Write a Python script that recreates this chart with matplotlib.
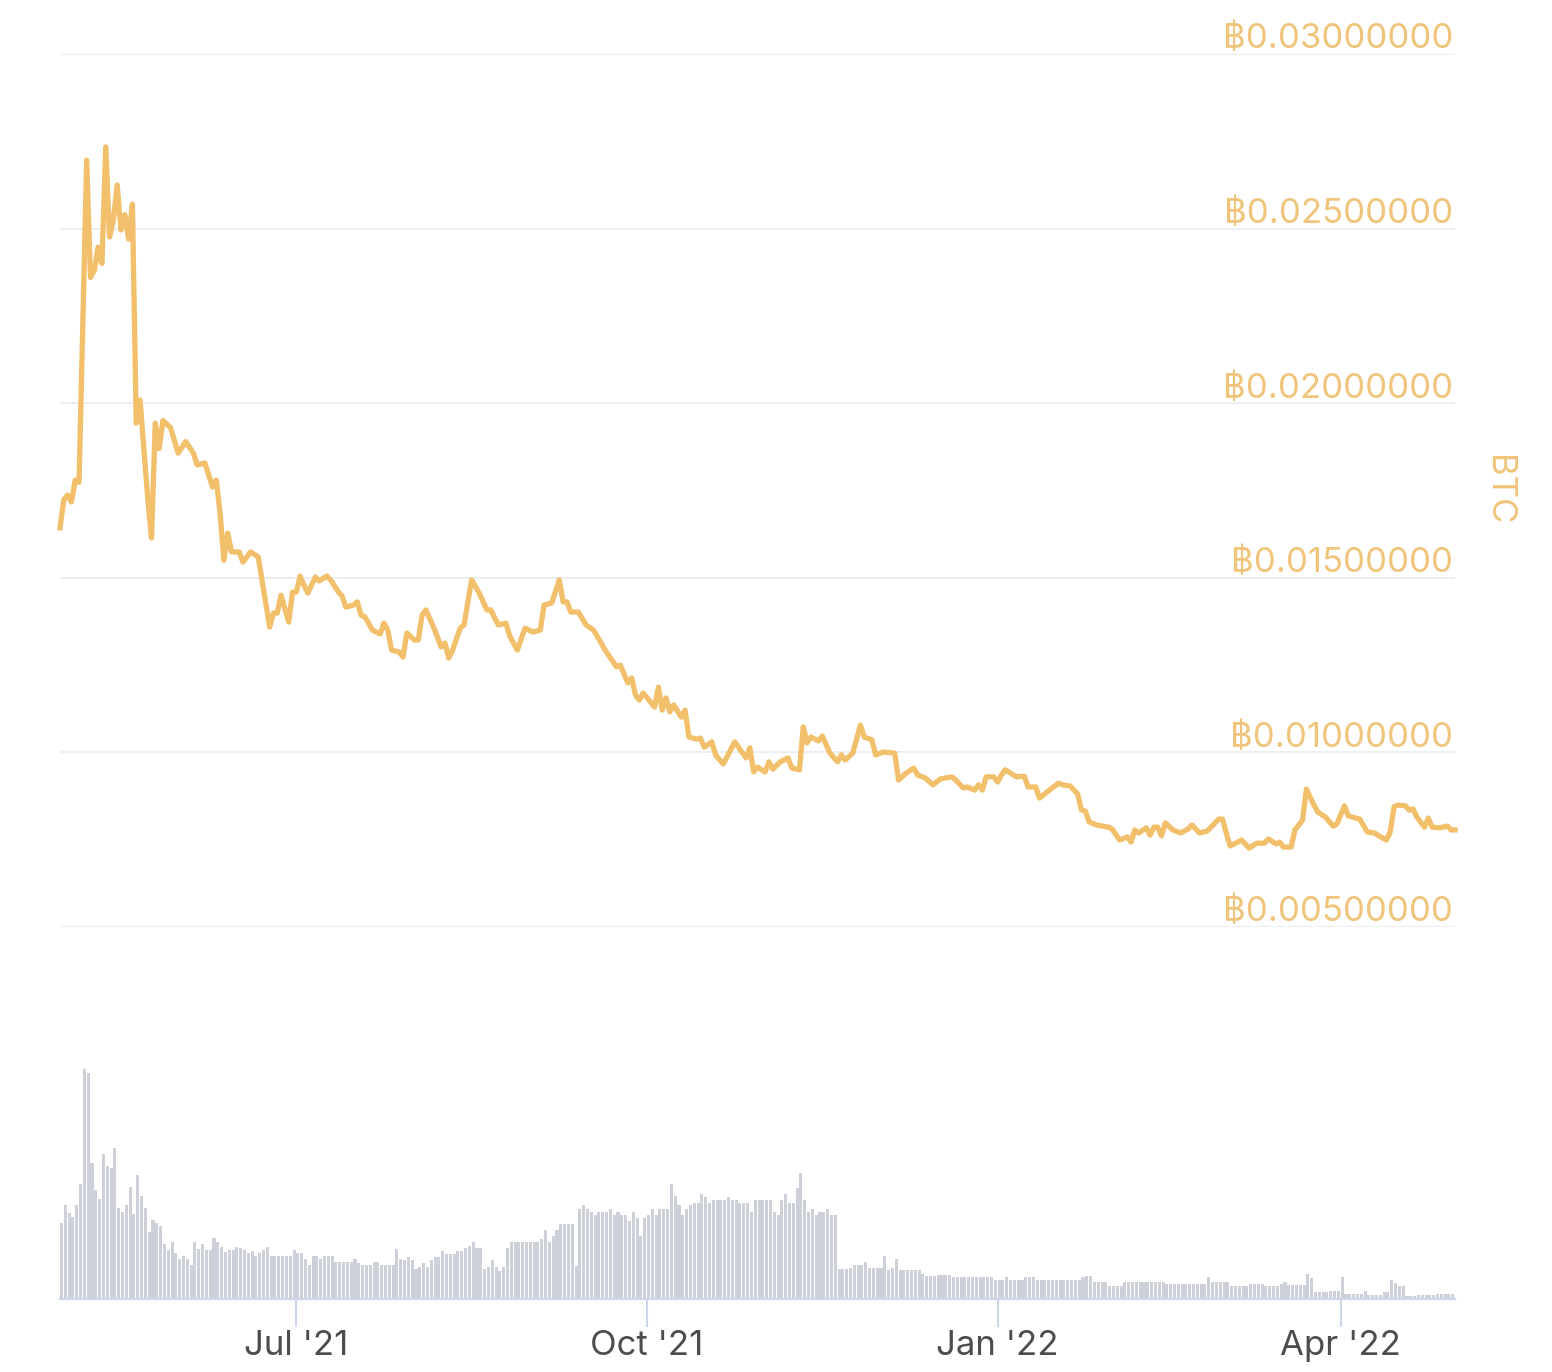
import matplotlib
matplotlib.use('Agg')
import matplotlib.pyplot as plt
import matplotlib.dates as mdates
import numpy as np
import pandas as pd

plt.rcParams['font.family'] = ['Inter', 'DejaVu Sans', 'Noto Sans']

start = pd.Timestamp('2021-04-30')

# price in mBTC, sampled on day offsets from start
price_day = [0, 1, 2, 3, 4, 5, 7, 8, 9, 10, 11, 12, 13, 14, 15, 16, 17, 18, 19, 20,
             21, 23, 24, 25, 26, 27, 29, 31, 33, 35, 36, 38, 40, 41, 42, 43, 44, 45, 47, 48,
             50, 52, 55, 56, 57, 58, 60, 61, 62, 63, 64, 65, 67, 68, 70, 71, 73, 74, 75, 77,
             78, 79, 80, 82, 84, 85, 86, 87, 89, 90, 91, 93, 94, 95, 96, 98, 100, 101, 102, 103,
             105, 106, 108, 110, 112, 113, 115, 117, 118, 120, 122, 124, 126, 127, 129, 131, 132, 133, 134, 136,
             138, 140, 142, 143, 146, 147, 149, 150, 151, 152, 153, 156, 157, 158, 159, 160, 161, 163, 164, 165,
             167, 168, 169, 171, 172, 174, 175, 177, 178, 180, 181, 182, 183, 185, 186, 187, 189, 191, 192, 194,
             195, 196, 197, 199, 200, 202, 204, 205, 206, 208, 210, 211, 213, 214, 216, 219, 220, 222, 224, 225,
             227, 229, 231, 234, 235, 237, 238, 240, 241, 242, 243, 245, 246, 247, 248, 251, 253, 254, 256, 257,
             259, 262, 263, 265, 267, 268, 269, 270, 272, 275, 276, 278, 280, 281, 282, 283, 285, 286, 287, 288,
             289, 290, 292, 294, 296, 297, 299, 301, 302, 304, 305, 306, 307, 309, 310, 312, 314, 316, 317, 319,
             320, 321, 323, 324, 326, 327, 329, 330, 332, 334, 335, 337, 338, 339, 341, 343, 345, 346, 348, 349,
             350, 351, 353, 354, 355, 356, 358, 359, 360, 362, 364, 365, 366]
price_mbtc = [16.43, 17.23, 17.37, 17.17, 17.8, 17.74, 26.96, 23.6, 23.8, 24.47, 24.0, 27.34, 24.76, 25.25, 26.25, 24.96, 25.4, 24.7, 25.7, 19.43,
              20.09, 17.31, 16.14, 19.43, 18.7, 19.5, 19.3, 18.57, 18.9, 18.57, 18.23, 18.29, 17.6, 17.8, 16.86, 15.5, 16.28, 15.74, 15.74, 15.45,
              15.74, 15.6, 13.59, 13.99, 13.99, 14.5, 13.73, 14.59, 14.59, 15.05, 14.79, 14.56, 15.02, 14.91, 15.05, 14.94, 14.6, 14.48, 14.16, 14.22,
              14.31, 13.93, 13.88, 13.5, 13.39, 13.7, 13.5, 12.93, 12.87, 12.73, 13.42, 13.22, 13.22, 13.93, 14.08, 13.59, 13.02, 13.13, 12.7, 12.93,
              13.56, 13.65, 14.94, 14.56, 14.08, 14.08, 13.65, 13.7, 13.33, 12.93, 13.56, 13.45, 13.5, 14.22, 14.28, 14.94, 14.31, 14.31, 14.02, 14.02,
              13.65, 13.5, 13.13, 12.93, 12.45, 12.5, 11.99, 12.13, 11.64, 11.5, 11.7, 11.3, 11.87, 11.21, 11.56, 11.16, 11.36, 11.01, 11.21, 10.44,
              10.38, 10.41, 10.15, 10.3, 9.93, 9.67, 9.87, 10.3, 10.15, 9.84, 10.13, 9.44, 9.58, 9.44, 9.73, 9.52, 9.73, 9.84, 9.55, 9.5,
              10.73, 10.27, 10.44, 10.33, 10.47, 9.98, 9.73, 9.93, 9.78, 9.98, 10.78, 10.44, 10.36, 9.93, 10.01, 9.98, 9.21, 9.41, 9.55, 9.35,
              9.27, 9.07, 9.24, 9.3, 9.21, 8.98, 9.01, 8.92, 9.07, 8.92, 9.3, 9.3, 9.15, 9.35, 9.5, 9.3, 9.32, 9.01, 9.01, 8.69,
              8.87, 9.12, 9.07, 9.04, 8.81, 8.35, 8.32, 8.01, 7.92, 7.86, 7.81, 7.49, 7.58, 7.43, 7.78, 7.69, 7.84, 7.63, 7.86, 7.86,
              7.61, 7.98, 7.78, 7.69, 7.81, 7.92, 7.69, 7.75, 7.86, 8.09, 8.09, 7.69, 7.32, 7.43, 7.49, 7.26, 7.4, 7.4, 7.52, 7.38,
              7.43, 7.29, 7.29, 7.78, 8.06, 8.95, 8.49, 8.29, 8.15, 7.89, 7.95, 8.47, 8.18, 8.15, 8.09, 7.72, 7.69, 7.61, 7.49, 7.72,
              8.44, 8.49, 8.47, 8.35, 8.38, 8.15, 7.86, 8.12, 7.86, 7.84, 7.89, 7.78, 7.78]

# daily volume (relative units), one value per day from start
volume = [75.7, 94, 85.7, 82.3, 94, 115, 229, 225.7, 135.7, 109,
          99.7, 144.7, 132.3, 130.7, 150.7, 90.7, 87.3, 94, 111.7, 85,
          124, 102.3, 90.7, 67.3, 79, 75.7, 73, 55, 49, 57.3,
          46.3, 39.7, 43, 39.7, 34, 57.3, 49.7, 55, 49, 49,
          60.7, 57.3, 51.7, 47.3, 49, 49, 51.7, 50.7, 49, 45.7,
          48.3, 43, 46.3, 49, 51.7, 43, 43, 43, 43, 43,
          43, 49, 45.7, 45.7, 39.7, 34, 43, 43, 39.7, 43,
          43, 43, 37.3, 37.3, 37.3, 37.3, 37.3, 39.7, 36.3, 34,
          34, 34, 37.3, 37.3, 34, 34, 34, 34, 49.7, 39.7,
          39, 41.7, 39, 30, 32.3, 35.7, 32.3, 39, 41.7, 41.7,
          48.3, 45, 45, 45, 47.7, 47.7, 51, 53.3, 56.7, 51,
          51, 30, 32.3, 39, 32.3, 27.7, 32.3, 51, 56.7, 56.7,
          56.7, 56.7, 56.7, 56.7, 56.7, 56.7, 60, 69, 56.7, 63.3,
          69, 75, 75, 75, 75, 33.3, 90, 93.3, 90, 86.7,
          84.3, 86.7, 86.7, 86.7, 90, 84.3, 86.7, 84.3, 84.3, 77.7,
          86.7, 81, 63.3, 81, 84.3, 90, 84.3, 90, 90, 90,
          114.3, 102.3, 93.3, 84.3, 90, 93.3, 95.7, 95.7, 105, 101.7,
          95.7, 99, 99, 99, 99, 101.7, 99, 99, 95.7, 95.7,
          95.7, 86.7, 99, 99, 99, 99, 99, 86.7, 84.3, 99,
          105, 95.7, 95.7, 111, 125.7, 99, 86.7, 90, 84.3, 86.7,
          86.7, 90, 84.3, 84.3, 30, 30, 30, 31, 34.3, 34.3,
          34.3, 37, 31, 31, 31, 31, 43.3, 29.3, 31, 40,
          28.7, 28.7, 28.7, 28.7, 28.7, 28.7, 25.3, 22.7, 22.7, 22.7,
          24, 24, 24, 24, 22, 22, 22, 22, 22, 22,
          22, 22, 22, 22, 22, 19.3, 19.3, 19.3, 22, 19.3,
          19.3, 19.3, 19.3, 22, 22, 22, 19.3, 19.3, 19.3, 19.3,
          19.3, 19.3, 19.3, 19.3, 19.3, 19.3, 19.3, 19.3, 22, 22.7,
          22.7, 16.7, 16.7, 16.7, 16.7, 13.3, 13.3, 13.3, 13.3, 16.7,
          16.7, 16.7, 16.7, 16.7, 16.7, 16.7, 16.7, 16.7, 16.7, 16.7,
          15.3, 15.3, 15.3, 15.3, 15.3, 15.3, 15.3, 15.3, 15.3, 15.3,
          15.3, 22, 16.7, 16.7, 16.7, 16.7, 16.7, 13.3, 13.3, 13.3,
          13.3, 13.3, 15.3, 15.3, 15.3, 15.3, 13.3, 13.3, 13.3, 13.3,
          15.3, 16.7, 14, 14, 14, 14, 14, 25.3, 21, 6.7,
          6.7, 6.7, 6.7, 7.7, 7.7, 7.7, 22, 5.3, 5.3, 5.3,
          5.3, 5.3, 7.7, 4.3, 4.3, 4.3, 4.3, 6.7, 6.7, 18.7,
          16, 13.3, 13.3, 3.3, 3.3, 3.3, 4.3, 4.3, 4.3, 4.3,
          4.3, 5.3, 5.3, 5.3, 5.3, 5.3]

y_ticks = [0.005, 0.010, 0.015, 0.020, 0.025, 0.030]
x_ticks = ['2021-07-01', '2021-10-01', '2022-01-01', '2022-04-01']

line_color = '#f2bf6b'
label_color = '#f0c47a'
axis_color = '#ccd6eb'

price_dates = start + pd.to_timedelta(price_day, unit='D')
price_btc = np.array(price_mbtc) / 1000
vol_dates = start + pd.to_timedelta(np.arange(len(volume)), unit='D')
x_min, x_max = start, start + pd.Timedelta(days=366)

W, H = 1552, 1372
fig = plt.figure(figsize=(W / 100, H / 100), dpi=100)

# price panel
ax = fig.add_axes([60 / W, (H - 927) / H, 1395 / W, 873 / H])
ax.plot(price_dates, price_btc, color=line_color, lw=3.8, solid_joinstyle='round', clip_on=False, zorder=3)
ax.set_xlim(x_min, x_max)
ax.set_ylim(0.005, 0.030)
ax.set_yticks(y_ticks)
ax.grid(axis='y', color='#e9ebf0', lw=1.2)
ax.tick_params(left=False, right=False, bottom=False, labelleft=False, labelbottom=False)
ax.set_xticks([])
for s in ax.spines.values():
    s.set_visible(False)
for v in y_ticks:
    ax.annotate('฿%.8f' % v, xy=(0.9985, v), xycoords=('axes fraction', 'data'),
                xytext=(0, 4), textcoords='offset points', ha='right', va='baseline',
                fontsize=25, color=label_color)
ax.text(1.031, 0.5, 'BTC', transform=ax.transAxes, rotation=270, ha='center', va='center',
        fontsize=25, color=label_color)

# volume panel
vmax = max(volume) * 1.05
vax = fig.add_axes([60 / W, (H - 1299) / H, 1395 / W, 241 / H])
vax.bar(vol_dates, volume, width=0.8, align='edge', color='#cdd0d8', lw=0)
vax.set_xlim(x_min, x_max)
vax.set_ylim(0, vmax)
vax.set_yticks([])
for s in ['top', 'left', 'right']:
    vax.spines[s].set_visible(False)
vax.spines['bottom'].set_color(axis_color)
vax.spines['bottom'].set_linewidth(1.6)
vax.set_xticks(pd.to_datetime(x_ticks))
vax.xaxis.set_major_formatter(mdates.DateFormatter("%b '%y"))
vax.tick_params(axis='x', length=20, width=1.5, color=axis_color, pad=2,
                labelsize=25, labelcolor='#4d4d4d')

fig.savefig('out.png', dpi=100)
